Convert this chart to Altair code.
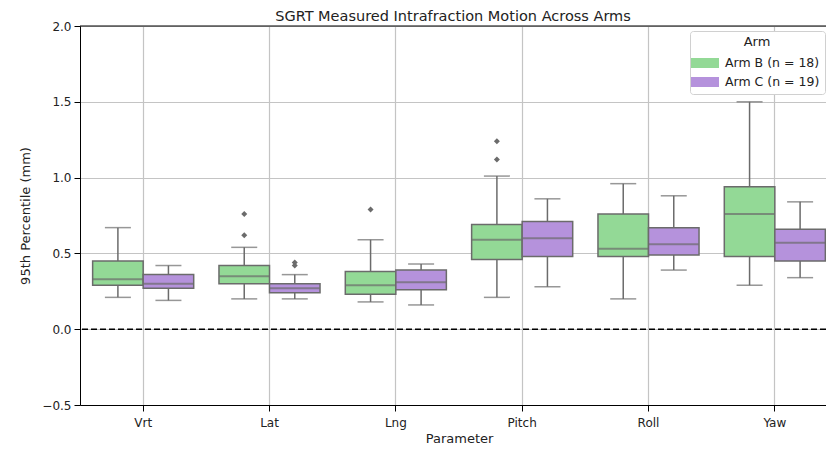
import altair as alt
import pandas as pd

params = ["Vrt", "Lat", "Lng", "Pitch", "Roll", "Yaw"]
arms = ["Arm B (n = 18)", "Arm C (n = 19)"]

# box summaries (mm)
lo_b = [0.21, 0.20, 0.18, 0.21, 0.20, 0.29]
q1_b = [0.29, 0.30, 0.23, 0.46, 0.48, 0.48]
med_b = [0.33, 0.35, 0.29, 0.59, 0.53, 0.76]
q3_b = [0.45, 0.42, 0.38, 0.69, 0.76, 0.94]
hi_b = [0.67, 0.54, 0.59, 1.01, 0.96, 1.50]

lo_c = [0.19, 0.20, 0.16, 0.28, 0.39, 0.34]
q1_c = [0.27, 0.24, 0.26, 0.48, 0.49, 0.45]
med_c = [0.30, 0.27, 0.31, 0.60, 0.56, 0.57]
q3_c = [0.36, 0.30, 0.39, 0.71, 0.67, 0.66]
hi_c = [0.42, 0.36, 0.43, 0.86, 0.88, 0.84]

out_param = ["Lat", "Lat", "Lng", "Pitch", "Pitch", "Lat", "Lat"]
out_arm = [arms[0]] * 5 + [arms[1]] * 2
out_val = [0.76, 0.62, 0.79, 1.24, 1.12, 0.44, 0.42]

df = pd.DataFrame({
    "Parameter": params * 2,
    "Arm": [arms[0]] * 6 + [arms[1]] * 6,
    "lo": lo_b + lo_c,
    "q1": q1_b + q1_c,
    "med": med_b + med_c,
    "q3": q3_b + q3_c,
    "hi": hi_b + hi_c,
})
outliers = pd.DataFrame({"Parameter": out_param, "Arm": out_arm, "v": out_val})

edge = "#6b6b6b"
grid = "#c4c4c4"

# the original axes run a little past the right edge of the page
x = alt.X(
    "Parameter:N", sort=params, title="Parameter",
    scale=alt.Scale(range=[0, 758], paddingInner=0.2, paddingOuter=0.1),
    axis=alt.Axis(labelAngle=0, grid=True, gridColor=grid, bandPosition=0.5,
                  domainColor="black", tickColor="black", tickSize=6,
                  labelPadding=6, titlePadding=4),
)
xo = alt.XOffset("Arm:N", sort=arms, scale=alt.Scale(paddingInner=0, paddingOuter=0))
yscale = alt.Scale(domain=[-0.5, 2.0], nice=False)
yaxis = alt.Axis(values=[-0.5, 0, 0.5, 1.0, 1.5, 2.0], format=".1f", grid=True,
                 gridColor=grid, domainColor="black", tickColor="black",
                 tickSize=6, labelPadding=3, titlePadding=9)

base = alt.Chart(df).encode(x=x, xOffset=xo)

whisk_lo = base.mark_rule(color=edge, strokeWidth=1.5).encode(
    y=alt.Y("lo:Q", scale=yscale, axis=yaxis, title="95th Percentile (mm)"), y2="q1:Q")
whisk_hi = base.mark_rule(color=edge, strokeWidth=1.5).encode(y="q3:Q", y2="hi:Q")
cap_lo = base.mark_tick(color=edge, size=26, thickness=1.5).encode(y="lo:Q")
cap_hi = base.mark_tick(color=edge, size=26, thickness=1.5).encode(y="hi:Q")

box = base.mark_bar(stroke=edge, strokeWidth=1.5, opacity=1).encode(
    y="q1:Q", y2="q3:Q",
    color=alt.Color("Arm:N", sort=arms,
                    scale=alt.Scale(domain=arms, range=["#93d996", "#b592dc"]),
                    legend=alt.Legend(title="Arm")),
)
median = base.mark_tick(color=edge, size=50, thickness=2).encode(y="med:Q")

fliers = alt.Chart(outliers).mark_point(
    shape="diamond", filled=True, color=edge, size=36, opacity=1
).encode(x=x, xOffset=xo, y="v:Q")

zero = alt.Chart(pd.DataFrame({"y": [0.0]})).mark_rule(
    color="black", strokeDash=[6, 3], strokeWidth=1.6
).encode(y="y:Q")
top = alt.Chart(pd.DataFrame({"y": [2.0]})).mark_rule(
    color="black", strokeWidth=1.2
).encode(y="y:Q")

chart = alt.layer(
    zero, whisk_lo, whisk_hi, cap_lo, cap_hi, box, median, fliers, top
).properties(
    width=746, height=379,
    autosize=alt.AutoSizeParams(type="none"),
    padding={"left": 72, "top": 18, "right": 0, "bottom": 42},
    title=alt.Title("SGRT Measured Intrafraction Motion Across Arms",
                    fontSize=14.5, fontWeight="normal", offset=-4,
                    frame="group", anchor="middle", color="#222222"),
).configure(
    font="DejaVu Sans",
).configure_view(
    stroke=None,
).configure_axis(
    labelFontSize=12, titleFontSize=13, titleFontWeight="normal",
    labelColor="#222222", titleColor="#222222", gridWidth=1.2,
).configure_legend(
    orient="none", legendX=610, legendY=5,
    fillColor="white", strokeColor="#d0d0d0", cornerRadius=3,
    padding=5, titleAnchor="middle", titleFontSize=13, titleFontWeight="normal",
    titlePadding=4,
    labelFontSize=12.5, titleColor="#222222", labelColor="#222222",
    symbolType="M-1.4,-0.5H1.4V0.5H-1.4Z", symbolSize=400,
    symbolStrokeWidth=0, symbolOpacity=1, labelOffset=10, rowPadding=2,
)

chart.save("out.html", embed_options={"renderer": "svg", "actions": False})
